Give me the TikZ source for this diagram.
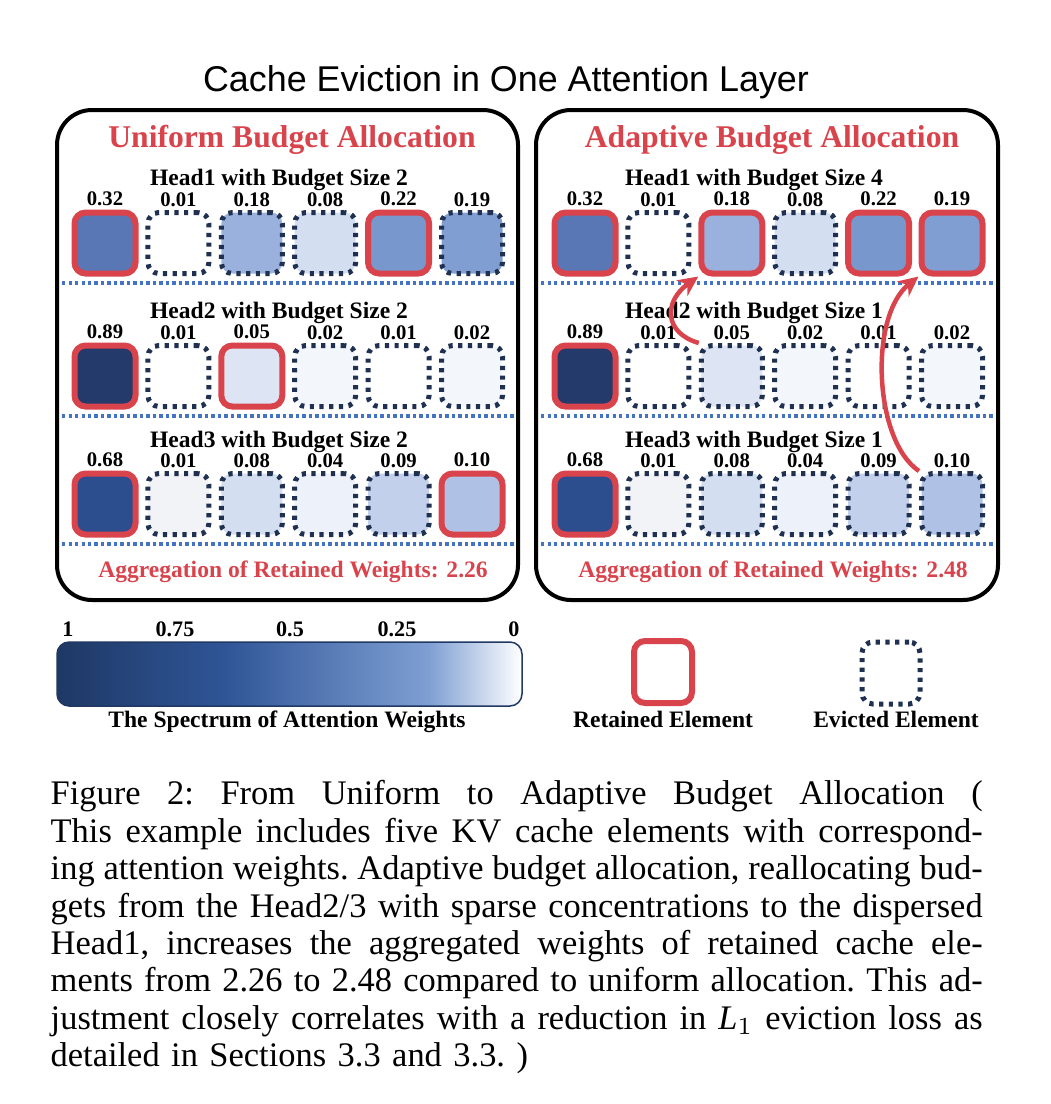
\documentclass[tikz,border=0pt]{standalone}
\usepackage{fontspec}
\setmainfont{Liberation Serif}
\newfontfamily\titlefont{Liberation Sans}
\usetikzlibrary{arrows.meta}

\definecolor{cred}{HTML}{D9434C}
\definecolor{cnavy}{HTML}{1F3050}
\definecolor{csep}{HTML}{4472C4}
\definecolor{w100}{HTML}{1F3864}
\definecolor{w50}{HTML}{2F5597}
\definecolor{w20}{HTML}{7F9FD3}
\definecolor{w89}{HTML}{233A6A}
\definecolor{w68}{HTML}{2C4E8E}
\definecolor{w32}{HTML}{5877B4}
\definecolor{w22}{HTML}{7897CC}
\definecolor{w19}{HTML}{809ED2}
\definecolor{w18}{HTML}{9AB1DE}
\definecolor{w10}{HTML}{AFC2E5}
\definecolor{w09}{HTML}{C3D0EC}
\definecolor{w08}{HTML}{D4DEF1}
\definecolor{w05}{HTML}{DDE5F4}
\definecolor{w04}{HTML}{EDF1F9}
\definecolor{w02}{HTML}{F3F6FB}
\definecolor{w01}{HTML}{FFFFFF}
\definecolor{w01g}{HTML}{F2F3F6}

\pgfdeclarehorizontalshading{attspec}{100bp}{color(0bp)=(w100); color(25bp)=(w100); color(43bp)=(w50); color(65bp)=(w20); color(75bp)=(white); color(100bp)=(white)}

\def\capline#1{\leavevmode\hbox to 93.2mm{\spaceskip=0.25em plus 0.6em minus 0.1em #1}}

\tikzset{
  cell/.style={rectangle, rounded corners=1.1mm, minimum size=6.1mm, inner sep=0pt},
  kept/.style={cell, draw=cred, line width=0.6mm},
  evicted/.style={cell, draw=cnavy, line width=0.5mm, dash pattern=on 0.42mm off 0.55mm},
  weight/.style={font=\bfseries\fontsize{5.9}{6}\selectfont, inner sep=0.3mm},
  wt/.style={label={[weight]above:#1}},
  ptitle/.style={font=\bfseries\fontsize{9}{11}\selectfont, text=cred, anchor=base},
  headtxt/.style={font=\bfseries\fontsize{6.7}{8}\selectfont, anchor=base},
  aggr/.style={font=\bfseries\fontsize{6.7}{8}\selectfont, text=cred, anchor=base},
  legtxt/.style={font=\bfseries\fontsize{6.7}{8}\selectfont, anchor=base},
  ticktxt/.style={font=\bfseries\fontsize{6.3}{7}\selectfont, anchor=base},
  frame/.style={line width=0.4mm, rounded corners=3.5mm},
  sep/.style={csep, line width=0.35mm, dash pattern=on 0.32mm off 0.33mm},
  move/.style={cred, line width=0.45mm, -{Stealth[length=2mm, width=1.9mm]}},
  specbar/.style={rectangle, rounded corners=1.2mm, draw=w100, line width=0.15mm, shading=attspec, minimum width=46.5mm, minimum height=6.4mm}
}

\begin{document}
\begin{tikzpicture}[x=0.1mm, y=-0.1mm]
		%%%%% START %%%%%
		\useasboundingbox (0,0) rectangle (1051,1104);
		
		\node[anchor=base, font=\titlefont\fontsize{10.2}{12}\selectfont] (title) at (506,91) {Cache Eviction in One Attention Layer};
		
		\draw[frame] (57,110) rectangle (518,600);
		\draw[frame] (536,110) rectangle (998,600);
		
		\node[ptitle] (uhead) at (292,147) {Uniform Budget Allocation};
		\node[ptitle] (ahead) at (772,147) {Adaptive Budget Allocation};
		
		% uniform allocation
		\node[headtxt] (uh1) at (279,185) {Head1 with Budget Size 2};
		\node[kept, fill=w32, wt=0.32] (u11) at (105,243) {};
		\node[evicted, fill=w01, wt=0.01] (u12) at (178.4,243) {};
		\node[evicted, fill=w18, wt=0.18] (u13) at (251.8,243) {};
		\node[evicted, fill=w08, wt=0.08] (u14) at (325.2,243) {};
		\node[kept, fill=w22, wt=0.22] (u15) at (398.6,243) {};
		\node[evicted, fill=w19, wt=0.19] (u16) at (472,243) {};
		\draw[sep] (62,283) -- (514,283);
		
		\node[headtxt] (uh2) at (279,318) {Head2 with Budget Size 2};
		\node[kept, fill=w89, wt=0.89] (u21) at (105,376) {};
		\node[evicted, fill=w01, wt=0.01] (u22) at (178.4,376) {};
		\node[kept, fill=w05, wt=0.05] (u23) at (251.8,376) {};
		\node[evicted, fill=w02, wt=0.02] (u24) at (325.2,376) {};
		\node[evicted, fill=w01, wt=0.01] (u25) at (398.6,376) {};
		\node[evicted, fill=w02, wt=0.02] (u26) at (472,376) {};
		\draw[sep] (62,416) -- (514,416);
		
		\node[headtxt] (uh3) at (279,447) {Head3 with Budget Size 2};
		\node[kept, fill=w68, wt=0.68] (u31) at (105,504) {};
		\node[evicted, fill=w01g, wt=0.01] (u32) at (178.4,504) {};
		\node[evicted, fill=w08, wt=0.08] (u33) at (251.8,504) {};
		\node[evicted, fill=w04, wt=0.04] (u34) at (325.2,504) {};
		\node[evicted, fill=w09, wt=0.09] (u35) at (398.6,504) {};
		\node[kept, fill=w10, wt=0.10] (u36) at (472,504) {};
		\draw[sep] (62,544) -- (514,544);
		
		\node[aggr] (uagg) at (293,577) {Aggregation of Retained Weights: 2.26};
		
		% adaptive allocation
		\node[headtxt] (ah1) at (754,185) {Head1 with Budget Size 4};
		\node[kept, fill=w32, wt=0.32] (a11) at (585,243) {};
		\node[evicted, fill=w01, wt=0.01] (a12) at (658.4,243) {};
		\node[kept, fill=w18, wt=0.18] (a13) at (731.8,243) {};
		\node[evicted, fill=w08, wt=0.08] (a14) at (805.2,243) {};
		\node[kept, fill=w22, wt=0.22] (a15) at (878.6,243) {};
		\node[kept, fill=w19, wt=0.19] (a16) at (952,243) {};
		\draw[sep] (541,283) -- (994,283);
		
		\node[headtxt] (ah2) at (754,318) {Head2 with Budget Size 1};
		\node[kept, fill=w89, wt=0.89] (a21) at (585,376) {};
		\node[evicted, fill=w01, wt=0.01] (a22) at (658.4,376) {};
		\node[evicted, fill=w05, wt=0.05] (a23) at (731.8,376) {};
		\node[evicted, fill=w02, wt=0.02] (a24) at (805.2,376) {};
		\node[evicted, fill=w01, wt=0.01] (a25) at (878.6,376) {};
		\node[evicted, fill=w02, wt=0.02] (a26) at (952,376) {};
		\draw[sep] (541,416) -- (994,416);
		
		\node[headtxt] (ah3) at (754,447) {Head3 with Budget Size 1};
		\node[kept, fill=w68, wt=0.68] (a31) at (585,504) {};
		\node[evicted, fill=w01g, wt=0.01] (a32) at (658.4,504) {};
		\node[evicted, fill=w08, wt=0.08] (a33) at (731.8,504) {};
		\node[evicted, fill=w04, wt=0.04] (a34) at (805.2,504) {};
		\node[evicted, fill=w09, wt=0.09] (a35) at (878.6,504) {};
		\node[evicted, fill=w10, wt=0.10] (a36) at (952,504) {};
		\draw[sep] (541,544) -- (994,544);
		
		\node[aggr] (aagg) at (773,577) {Aggregation of Retained Weights: 2.48};
		
		% budget moved to head1
		\draw[move] (a23.north west) .. controls +(-35,-10) and +(-35,25) .. (a13.south west);
		\draw[move] (a36.north west) .. controls +(-45,-30) and +(-50,40) .. (a16.south west);
		
		% spectrum and legend
		\node[specbar] (spec) at (289.5,674) {};
		\node[ticktxt] (t1) at (68,636) {1};
		\node[ticktxt] (t2) at (175,636) {0.75};
		\node[ticktxt] (t3) at (290,636) {0.5};
		\node[ticktxt] (t4) at (397,636) {0.25};
		\node[ticktxt] (t5) at (514,636) {0};
		\node[legtxt] (spectxt) at (287,727) {The Spectrum of Attention Weights};
		
		\node[kept, minimum width=5.8mm, minimum height=6.2mm] (legkept) at (663,672) {};
		\node[legtxt] (legkepttxt) at (663,727) {Retained Element};
		\node[evicted, minimum width=5.8mm, minimum height=6.2mm] (legev) at (891,673) {};
		\node[legtxt] (legevtxt) at (896,727) {Evicted Element};
		
		% caption
		\node[anchor=north west, inner sep=0pt, text width=93.2mm, align=left, font=\fontsize{9.8}{10.64}\selectfont\frenchspacing] (cap) at (50,780) {%
			\capline{Figure 2: From Uniform to Adaptive Budget Allocation (}\\
			\capline{This example includes five KV cache elements with correspond-}\\
			\capline{ing attention weights. Adaptive budget allocation, reallocating bud-}\\
			\capline{gets from the Head2/3 with sparse concentrations to the dispersed}\\
			\capline{Head1, increases the aggregated weights of retained cache ele-}\\
			\capline{ments from 2.26 to 2.48 compared to uniform allocation. This ad-}\\
			\capline{justment closely correlates with a reduction in $\textit{L}_1$ eviction loss as}\\
			detailed in Sections 3.3 and 3.3. )};
		
		%%%%% END %%%%%
	\end{tikzpicture}
\end{document}
